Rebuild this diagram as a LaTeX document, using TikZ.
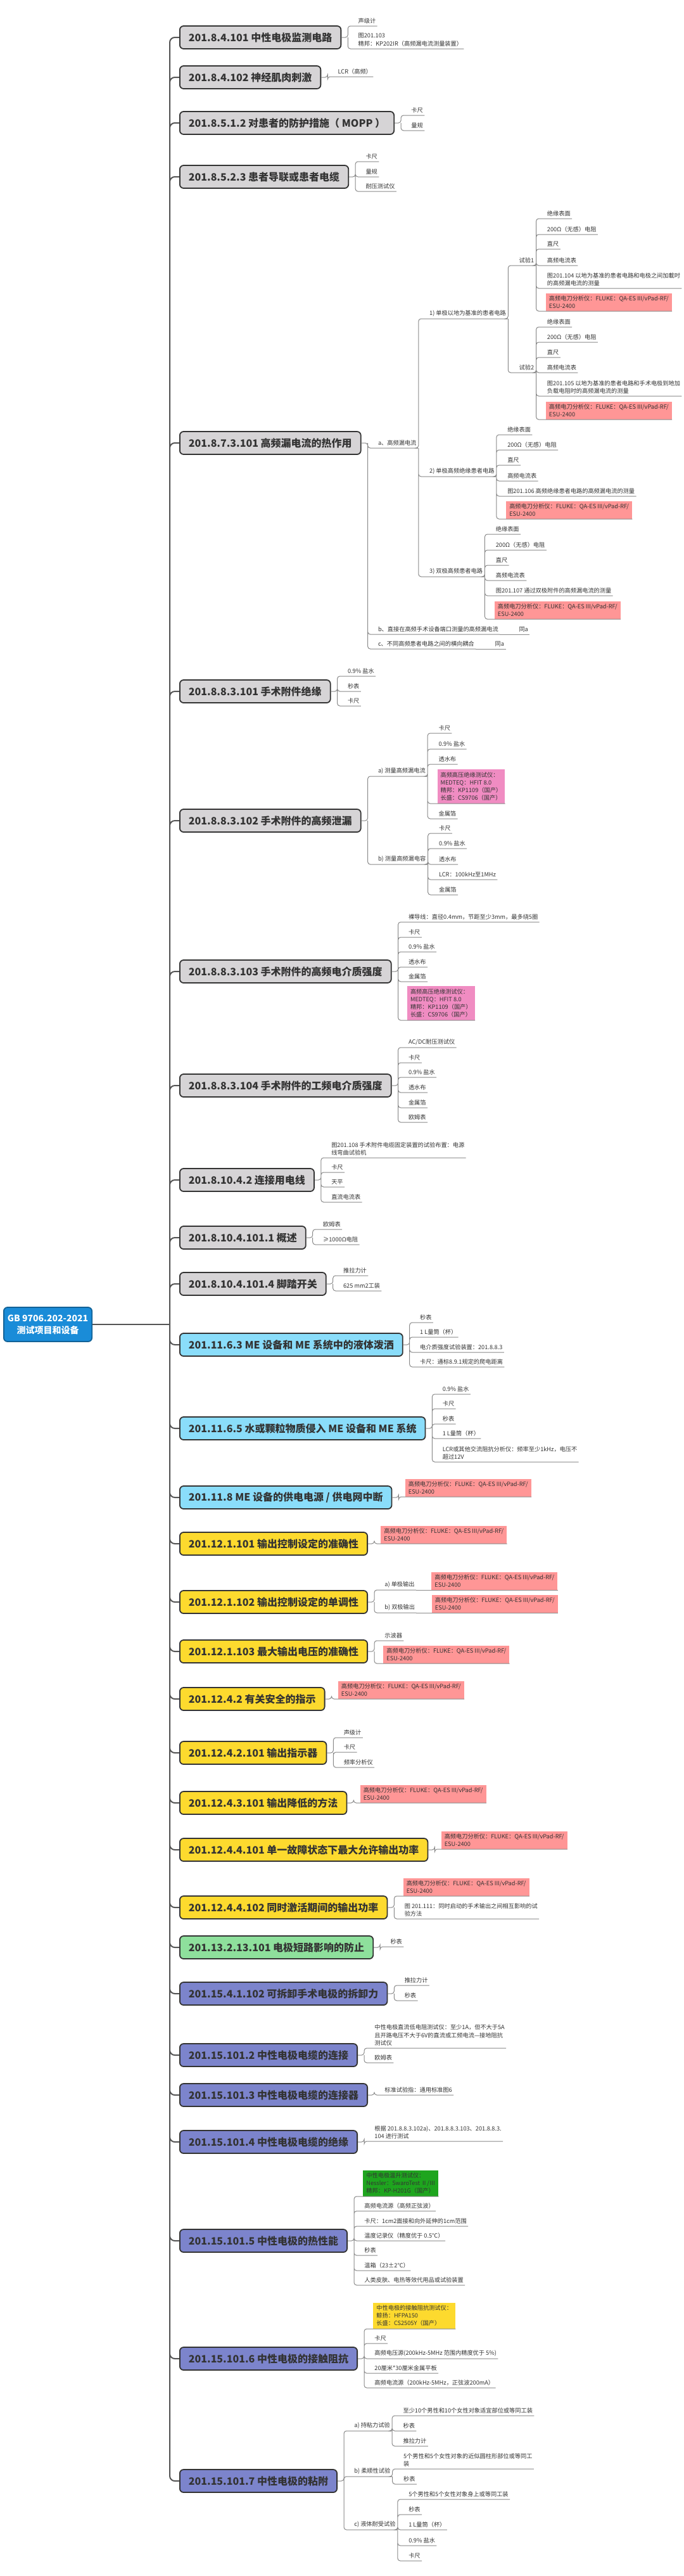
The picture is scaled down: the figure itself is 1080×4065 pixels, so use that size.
\documentclass[tikz,border=0pt]{standalone}
\usepackage{fontspec}
\setmainfont{Noto Sans CJK SC}
\usetikzlibrary{positioning,calc}
\definecolor{boxgray}{HTML}{D6D4D6}
\definecolor{boxblue}{HTML}{8ADDFA}
\definecolor{boxyellow}{HTML}{FDDA2E}
\definecolor{boxgreen}{HTML}{8EE09C}
\definecolor{boxpurple}{HTML}{7C84CC}
\definecolor{rootblue}{HTML}{1A8CD8}
\definecolor{redfill}{HTML}{FF9696}
\definecolor{pinkfill}{HTML}{F08CC2}
\definecolor{greenfill}{HTML}{1EA51E}
\definecolor{yellowfill}{HTML}{FDDA2E}
\definecolor{linegray}{HTML}{8A8A8A}
\definecolor{trunkgray}{HTML}{555555}
\definecolor{textgray}{HTML}{333333}
\newcommand{\leaffont}{\fontsize{4.6}{6.1}\selectfont}
\tikzset{
  mainbox/.style={draw=textgray, line width=0.9pt, rounded corners=3pt, anchor=west,
    minimum height=18pt, inner xsep=7pt, font=\fontsize{8}{10}\selectfont\bfseries, text=textgray},
  rootbox/.style={draw=rootblue!70!black, line width=0.9pt, rounded corners=3pt, fill=rootblue,
    text=white, align=center, anchor=west, minimum width=60pt, minimum height=27pt, inner xsep=3pt,
    font=\fontsize{7}{9.5}\selectfont\bfseries},
  leaf/.style={anchor=south west, font=\leaffont, text=textgray, inner xsep=1pt, inner ysep=1.8pt, align=left},
  hl/.style={leaf, inner xsep=2.5pt, inner ysep=2pt},
  redbox/.style={hl, fill=redfill},
  pinkbox/.style={hl, fill=pinkfill},
  greenbox/.style={hl, fill=greenfill},
  yellowbox/.style={hl, fill=yellowfill},
  conn/.style={draw=linegray, line width=0.5pt, rounded corners=2pt},
  trunk/.style={draw=trunkgray, line width=1pt, rounded corners=4pt}
}
\begin{document}
\begin{tikzpicture}[x=0.5pt,y=-0.5pt]
  \useasboundingbox[fill=white] (0,0) rectangle (1080,4065);

  \node[rootbox] (root) at (5,2090) {GB 9706.202-2021\\测试项目和设备};
  \coordinate (T) at (268,2090);

  % main sections
  \node[mainbox, fill=boxgray] (s1) at (283,59) {201.8.4.101 中性电极监测电路};
  \node[mainbox, fill=boxgray] (s2) at (283,122) {201.8.4.102 神经肌肉刺激};
  \node[mainbox, fill=boxgray] (s3) at (283,194) {201.8.5.1.2 对患者的防护措施（ MOPP ）};
  \node[mainbox, fill=boxgray] (s4) at (283,279) {201.8.5.2.3 患者导联或患者电缆};
  \node[mainbox, fill=boxgray] (s5) at (283,699) {201.8.7.3.101 高频漏电流的热作用};
  \node[mainbox, fill=boxgray] (s6) at (283,1091) {201.8.8.3.101 手术附件绝缘};
  \node[mainbox, fill=boxgray] (s7) at (283,1295) {201.8.8.3.102 手术附件的高频泄漏};
  \node[mainbox, fill=boxgray] (s8) at (283,1533) {201.8.8.3.103 手术附件的高频电介质强度};
  \node[mainbox, fill=boxgray] (s9) at (283,1713) {201.8.8.3.104 手术附件的工频电介质强度};
  \node[mainbox, fill=boxgray] (s10) at (283,1862) {201.8.10.4.2 连接用电线};
  \node[mainbox, fill=boxgray] (s11) at (283,1953) {201.8.10.4.101.1 概述};
  \node[mainbox, fill=boxgray] (s12) at (283,2026) {201.8.10.4.101.4 脚踏开关};
  \node[mainbox, fill=boxblue] (s13) at (283,2122) {201.11.6.3 ME 设备和 ME 系统中的液体泼洒};
  \node[mainbox, fill=boxblue] (s14) at (283,2254) {201.11.6.5 水或颗粒物质侵入 ME 设备和 ME 系统};
  \node[mainbox, fill=boxblue] (s15) at (283,2363) {201.11.8 ME 设备的供电电源 / 供电网中断};
  \node[mainbox, fill=boxyellow] (s16) at (283,2436) {201.12.1.101 输出控制设定的准确性};
  \node[mainbox, fill=boxyellow] (s17) at (283,2528) {201.12.1.102 输出控制设定的单调性};
  \node[mainbox, fill=boxyellow] (s18) at (283,2606) {201.12.1.103 最大输出电压的准确性};
  \node[mainbox, fill=boxyellow] (s19) at (283,2681) {201.12.4.2 有关安全的指示};
  \node[mainbox, fill=boxyellow] (s20) at (283,2766) {201.12.4.2.101 输出指示器};
  \node[mainbox, fill=boxyellow] (s21) at (283,2845) {201.12.4.3.101 输出降低的方法};
  \node[mainbox, fill=boxyellow] (s22) at (283,2919) {201.12.4.4.101 单一故障状态下最大允许输出功率};
  \node[mainbox, fill=boxyellow] (s23) at (283,3010) {201.12.4.4.102 同时激活期间的输出功率};
  \node[mainbox, fill=boxgreen] (s24) at (283,3073) {201.13.2.13.101 电极短路影响的防止};
  \node[mainbox, fill=boxpurple] (s25) at (283,3146) {201.15.4.1.102 可拆卸手术电极的拆卸力};
  \node[mainbox, fill=boxpurple] (s26) at (283,3243) {201.15.101.2 中性电极电缆的连接};
  \node[mainbox, fill=boxpurple] (s27) at (283,3306) {201.15.101.3 中性电极电缆的连接器};
  \node[mainbox, fill=boxpurple] (s28) at (283,3380) {201.15.101.4 中性电极电缆的绝缘};
  \node[mainbox, fill=boxpurple] (s29) at (283,3536) {201.15.101.5 中性电极的热性能};
  \node[mainbox, fill=boxpurple] (s30) at (283,3722) {201.15.101.6 中性电极的接触阻抗};
  \node[mainbox, fill=boxpurple] (s31) at (283,3915) {201.15.101.7 中性电极的粘附};

  \draw[trunk] (root.east) -- (T);
  \draw[trunk] (T) |- (s1.west) (T) |- (s2.west) (T) |- (s3.west) (T) |- (s4.west)
    (T) |- (s5.west) (T) |- (s6.west) (T) |- (s7.west) (T) |- (s8.west) (T) |- (s9.west)
    (T) |- (s10.west) (T) |- (s11.west) (T) |- (s12.west) (T) |- (s13.west) (T) |- (s14.west)
    (T) |- (s15.west) (T) |- (s16.west) (T) |- (s17.west) (T) |- (s18.west) (T) |- (s19.west)
    (T) |- (s20.west) (T) |- (s21.west) (T) |- (s22.west) (T) |- (s23.west) (T) |- (s24.west)
    (T) |- (s25.west) (T) |- (s26.west) (T) |- (s27.west) (T) |- (s28.west) (T) |- (s29.west)
    (T) |- (s30.west) (T) |- (s31.west);

  % 201.8.4.101
  \coordinate (s1x) at ([xshift=12pt]s1.east);
  \node[leaf] (s1-1) at (s1x |- 0,41) {声级计};
  \node[leaf] (s1-2) at (s1x |- 0,77) {图201.103\\精邦：KP202IR（高频漏电流测量装置）};
  \draw[conn] (s1.east) -- ++(10,0) coordinate (s1b) |- (s1-1.south east) (s1b) |- (s1-2.south east);

  % 201.8.4.102
  \coordinate (s2x) at ([xshift=12pt]s2.east);
  \node[leaf] (s2-1) at (s2x |- 0,121) {LCR（高频）};
  \draw[conn] (s2.east) -- ++(10,0) |- (s2-1.south east);

  % 201.8.5.1.2
  \coordinate (s3x) at ([xshift=12pt]s3.east);
  \node[leaf] (s3-1) at (s3x |- 0,182) {卡尺};
  \node[leaf] (s3-2) at (s3x |- 0,206) {量规};
  \draw[conn] (s3.east) -- ++(10,0) coordinate (s3b) |- (s3-1.south east) (s3b) |- (s3-2.south east);

  % 201.8.5.2.3
  \coordinate (s4x) at ([xshift=12pt]s4.east);
  \node[leaf] (s4-1) at (s4x |- 0,255) {卡尺};
  \node[leaf] (s4-2) at (s4x |- 0,279) {量规};
  \node[leaf] (s4-3) at (s4x |- 0,302) {耐压测试仪};
  \draw[conn] (s4.east) -- ++(10,0) coordinate (s4b) |- (s4-1.south east) (s4b) |- (s4-2.south east)
    (s4b) |- (s4-3.south east);

  % 201.8.7.3.101
  \coordinate (s5x) at ([xshift=12pt]s5.east);
  \node[leaf] (s5a) at (s5x |- 0,707) {a、高频漏电流};
  \node[leaf] (s5b) at (s5x |- 0,1001) {b、直接在高频手术设备端口测量的高频漏电流};
  \node[leaf] (s5c) at (s5x |- 0,1024) {c、不同高频患者电路之间的横向耦合};
  \draw[conn] (s5.east) -- ++(10,0) coordinate (s5bb) |- (s5a.south east) (s5bb) |- (s5b.south east)
    (s5bb) |- (s5c.south east);
  \node[leaf] (s5b-1) at ([xshift=14pt]s5b.south east) {同a};
  \node[leaf] (s5c-1) at ([xshift=14pt]s5c.south east) {同a};
  \draw[conn] (s5b.south east) -- (s5b-1.south east) (s5c.south east) -- (s5c-1.south east);

  \coordinate (s5ax) at ([xshift=8pt]s5a.south east);
  \node[leaf] (s5a1) at (s5ax |- 0,503) {1) 单极以地为基准的患者电路};
  \node[leaf] (s5a2) at (s5ax |- 0,752) {2) 单极高频绝缘患者电路};
  \node[leaf] (s5a3) at (s5ax |- 0,910) {3) 双极高频患者电路};
  \draw[conn] (s5a.south east) -- ++(1,0) coordinate (s5ab) |- (s5a1.south east) (s5ab) |- (s5a2.south east)
    (s5ab) |- (s5a3.south east);

  \coordinate (s5a1x) at ([xshift=8pt]s5a1.south east);
  \node[leaf] (t1) at (s5a1x |- 0,419) {试验1};
  \node[leaf] (t2) at (s5a1x |- 0,588) {试验2};
  \draw[conn] (s5a1.south east) -- ++(1,0) coordinate (s5a1b) |- (t1.south east) (s5a1b) |- (t2.south east);

  \coordinate (t1x) at ([xshift=8pt]t1.south east);
  \node[leaf] (t1-1) at (t1x |- 0,345) {绝缘表面};
  \node[leaf] (t1-2) at (t1x |- 0,370) {200Ω（无感）电阻};
  \node[leaf] (t1-3) at (t1x |- 0,393) {直尺};
  \node[leaf] (t1-4) at (t1x |- 0,419) {高频电流表};
  \node[leaf] (t1-5) at (t1x |- 0,455) {图201.104 以地为基准的患者电路和电极之间加載时\\的高频漏电流的测量};
  \node[redbox] (t1-6) at (t1x |- 0,491) {高频电刀分析仪：FLUKE：QA-ES III/vPad-RF/\\ESU-2400};
  \draw[conn] (t1.south east) -- ++(1,0) coordinate (t1b) |- (t1-1.south east) (t1b) |- (t1-2.south east)
    (t1b) |- (t1-3.south east) (t1b) |- (t1-4.south east) (t1b) |- (t1-5.south east) (t1b) |- (t1-6.south east);

  \coordinate (t2x) at ([xshift=8pt]t2.south east);
  \node[leaf] (t2-1) at (t2x |- 0,516) {绝缘表面};
  \node[leaf] (t2-2) at (t2x |- 0,540) {200Ω（无感）电阻};
  \node[leaf] (t2-3) at (t2x |- 0,564) {直尺};
  \node[leaf] (t2-4) at (t2x |- 0,588) {高频电流表};
  \node[leaf] (t2-5) at (t2x |- 0,625) {图201.105 以地为基准的患者电路和手术电极到地加\\负载电阻时的高频漏电流的测量};
  \node[redbox] (t2-6) at (t2x |- 0,662) {高频电刀分析仪：FLUKE：QA-ES III/vPad-RF/\\ESU-2400};
  \draw[conn] (t2.south east) -- ++(1,0) coordinate (t2b) |- (t2-1.south east) (t2b) |- (t2-2.south east)
    (t2b) |- (t2-3.south east) (t2b) |- (t2-4.south east) (t2b) |- (t2-5.south east) (t2b) |- (t2-6.south east);

  \coordinate (s5a2x) at ([xshift=8pt]s5a2.south east);
  \node[leaf] (s5a2-1) at (s5a2x |- 0,686) {绝缘表面};
  \node[leaf] (s5a2-2) at (s5a2x |- 0,710) {200Ω（无感）电阻};
  \node[leaf] (s5a2-3) at (s5a2x |- 0,734) {直尺};
  \node[leaf] (s5a2-4) at (s5a2x |- 0,759) {高频电流表};
  \node[leaf] (s5a2-5) at (s5a2x |- 0,783) {图201.106 高频绝缘患者电路的高频漏电流的测量};
  \node[redbox] (s5a2-6) at (s5a2x |- 0,819) {高频电刀分析仪：FLUKE：QA-ES III/vPad-RF/\\ESU-2400};
  \draw[conn] (s5a2.south east) -- ++(1,0) coordinate (s5a2b) |- (s5a2-1.south east) (s5a2b) |- (s5a2-2.south east)
    (s5a2b) |- (s5a2-3.south east) (s5a2b) |- (s5a2-4.south east) (s5a2b) |- (s5a2-5.south east)
    (s5a2b) |- (s5a2-6.south east);

  \coordinate (s5a3x) at ([xshift=8pt]s5a3.south east);
  \node[leaf] (s5a3-1) at (s5a3x |- 0,843) {绝缘表面};
  \node[leaf] (s5a3-2) at (s5a3x |- 0,868) {200Ω（无感）电阻};
  \node[leaf] (s5a3-3) at (s5a3x |- 0,892) {直尺};
  \node[leaf] (s5a3-4) at (s5a3x |- 0,916) {高频电流表};
  \node[leaf] (s5a3-5) at (s5a3x |- 0,940) {图201.107 通过双极附件的高频漏电流的测量};
  \node[redbox] (s5a3-6) at (s5a3x |- 0,977) {高频电刀分析仪：FLUKE：QA-ES III/vPad-RF/\\ESU-2400};
  \draw[conn] (s5a3.south east) -- ++(1,0) coordinate (s5a3b) |- (s5a3-1.south east) (s5a3b) |- (s5a3-2.south east)
    (s5a3b) |- (s5a3-3.south east) (s5a3b) |- (s5a3-4.south east) (s5a3b) |- (s5a3-5.south east)
    (s5a3b) |- (s5a3-6.south east);

  % 201.8.8.3.101
  \coordinate (s6x) at ([xshift=12pt]s6.east);
  \node[leaf] (s6-1) at (s6x |- 0,1067) {0.9\% 盐水};
  \node[leaf] (s6-2) at (s6x |- 0,1091) {秒表};
  \node[leaf] (s6-3) at (s6x |- 0,1114) {卡尺};
  \draw[conn] (s6.east) -- ++(10,0) coordinate (s6b) |- (s6-1.south east) (s6b) |- (s6-2.south east)
    (s6b) |- (s6-3.south east);

  % 201.8.8.3.102
  \coordinate (s7x) at ([xshift=12pt]s7.east);
  \node[leaf] (s7a) at (s7x |- 0,1225) {a) 测量高频漏电流};
  \node[leaf] (s7b) at (s7x |- 0,1364) {b) 测量高频漏电容};
  \draw[conn] (s7.east) -- ++(10,0) coordinate (s7bb) |- (s7a.south east) (s7bb) |- (s7b.south east);
  \coordinate (s7ax) at ([xshift=8pt]s7a.south east);
  \node[leaf] (s7a-1) at (s7ax |- 0,1157) {卡尺};
  \node[leaf] (s7a-2) at (s7ax |- 0,1182) {0.9\% 盐水};
  \node[leaf] (s7a-3) at (s7ax |- 0,1206) {透水布};
  \node[pinkbox] (s7a-4) at (s7ax |- 0,1268) {高频高压绝缘测试仪：\\MEDTEQ：HFIT 8.0\\精邦：KP1109（国产）\\长盛：CS9706（国产）};
  \node[leaf] (s7a-5) at (s7ax |- 0,1292) {金属箔};
  \draw[conn] (s7a.south east) -- ++(1,0) coordinate (s7ab) |- (s7a-1.south east) (s7ab) |- (s7a-2.south east)
    (s7ab) |- (s7a-3.south east) (s7ab) |- (s7a-4.south east) (s7ab) |- (s7a-5.south east);
  \coordinate (s7bx) at ([xshift=8pt]s7b.south east);
  \node[leaf] (s7b-1) at (s7bx |- 0,1315) {卡尺};
  \node[leaf] (s7b-2) at (s7bx |- 0,1339) {0.9\% 盐水};
  \node[leaf] (s7b-3) at (s7bx |- 0,1364) {透水布};
  \node[leaf] (s7b-4) at (s7bx |- 0,1388) {LCR：100kHz至1MHz};
  \node[leaf] (s7b-5) at (s7bx |- 0,1412) {金属箔};
  \draw[conn] (s7b.south east) -- ++(1,0) coordinate (s7bb2) |- (s7b-1.south east) (s7bb2) |- (s7b-2.south east)
    (s7bb2) |- (s7b-3.south east) (s7bb2) |- (s7b-4.south east) (s7bb2) |- (s7b-5.south east);

  % 201.8.8.3.103
  \coordinate (s8x) at ([xshift=12pt]s8.east);
  \node[leaf] (s8-1) at (s8x |- 0,1455) {裸导线：直径0.4mm，节距至少3mm，最多绕5圈};
  \node[leaf] (s8-2) at (s8x |- 0,1479) {卡尺};
  \node[leaf] (s8-3) at (s8x |- 0,1502) {0.9\% 盐水};
  \node[leaf] (s8-4) at (s8x |- 0,1526) {透水布};
  \node[leaf] (s8-5) at (s8x |- 0,1549) {金属箔};
  \node[pinkbox] (s8-6) at (s8x |- 0,1610) {高频高压绝缘测试仪：\\MEDTEQ：HFIT 8.0\\精邦：KP1109（国产）\\长盛：CS9706（国产）};
  \draw[conn] (s8.east) -- ++(10,0) coordinate (s8b) |- (s8-1.south east) (s8b) |- (s8-2.south east)
    (s8b) |- (s8-3.south east) (s8b) |- (s8-4.south east) (s8b) |- (s8-5.south east) (s8b) |- (s8-6.south east);

  % 201.8.8.3.104
  \coordinate (s9x) at ([xshift=12pt]s9.east);
  \node[leaf] (s9-1) at (s9x |- 0,1653) {AC/DC耐压测试仪};
  \node[leaf] (s9-2) at (s9x |- 0,1677) {卡尺};
  \node[leaf] (s9-3) at (s9x |- 0,1700) {0.9\% 盐水};
  \node[leaf] (s9-4) at (s9x |- 0,1724) {透水布};
  \node[leaf] (s9-5) at (s9x |- 0,1748) {金属箔};
  \node[leaf] (s9-6) at (s9x |- 0,1771) {欧姆表};
  \draw[conn] (s9.east) -- ++(10,0) coordinate (s9b) |- (s9-1.south east) (s9b) |- (s9-2.south east)
    (s9b) |- (s9-3.south east) (s9b) |- (s9-4.south east) (s9b) |- (s9-5.south east) (s9b) |- (s9-6.south east);

  % 201.8.10.4.2
  \coordinate (s10x) at ([xshift=12pt]s10.east);
  \node[leaf] (s10-1) at (s10x |- 0,1827) {图201.108 手术附件电缆固定装置的试验布置：电源\\线弯曲试验机};
  \node[leaf] (s10-2) at (s10x |- 0,1850) {卡尺};
  \node[leaf] (s10-3) at (s10x |- 0,1873) {天平};
  \node[leaf] (s10-4) at (s10x |- 0,1897) {直流电流表};
  \draw[conn] (s10.east) -- ++(10,0) coordinate (s10b) |- (s10-1.south east) (s10b) |- (s10-2.south east)
    (s10b) |- (s10-3.south east) (s10b) |- (s10-4.south east);

  % 201.8.10.4.101.1
  \coordinate (s11x) at ([xshift=12pt]s11.east);
  \node[leaf] (s11-1) at (s11x |- 0,1940) {欧姆表};
  \node[leaf] (s11-2) at (s11x |- 0,1964) {≥1000Ω电阻};
  \draw[conn] (s11.east) -- ++(10,0) coordinate (s11b) |- (s11-1.south east) (s11b) |- (s11-2.south east);

  % 201.8.10.4.101.4
  \coordinate (s12x) at ([xshift=12pt]s12.east);
  \node[leaf] (s12-1) at (s12x |- 0,2013) {推拉力计};
  \node[leaf] (s12-2) at (s12x |- 0,2037) {625 mm2工装};
  \draw[conn] (s12.east) -- ++(10,0) coordinate (s12b) |- (s12-1.south east) (s12b) |- (s12-2.south east);

  % 201.11.6.3
  \coordinate (s13x) at ([xshift=12pt]s13.east);
  \node[leaf] (s13-1) at (s13x |- 0,2087) {秒表};
  \node[leaf] (s13-2) at (s13x |- 0,2110) {1 L量筒（杯）};
  \node[leaf] (s13-3) at (s13x |- 0,2134) {电介质强度试验装置：201.8.8.3};
  \node[leaf] (s13-4) at (s13x |- 0,2157) {卡尺：通标8.9.1规定的爬电距离};
  \draw[conn] (s13.east) -- ++(10,0) coordinate (s13b) |- (s13-1.south east) (s13b) |- (s13-2.south east)
    (s13b) |- (s13-3.south east) (s13b) |- (s13-4.south east);

  % 201.11.6.5
  \coordinate (s14x) at ([xshift=12pt]s14.east);
  \node[leaf] (s14-1) at (s14x |- 0,2200) {0.9\% 盐水};
  \node[leaf] (s14-2) at (s14x |- 0,2223) {卡尺};
  \node[leaf] (s14-3) at (s14x |- 0,2247) {秒表};
  \node[leaf] (s14-4) at (s14x |- 0,2270) {1 L量筒（杯）};
  \node[leaf] (s14-5) at (s14x |- 0,2307) {LCR或其他交流阻抗分析仪：频率至少1kHz，电压不\\超过12V};
  \draw[conn] (s14.east) -- ++(10,0) coordinate (s14b) |- (s14-1.south east) (s14b) |- (s14-2.south east)
    (s14b) |- (s14-3.south east) (s14b) |- (s14-4.south east) (s14b) |- (s14-5.south east);

  % 201.11.8
  \coordinate (s15x) at ([xshift=10pt]s15.east);
  \node[redbox] (s15-1) at (s15x |- 0,2362) {高频电刀分析仪：FLUKE：QA-ES III/vPad-RF/\\ESU-2400};
  \draw[conn] (s15.east) -- ++(10,0) |- (s15-1.south east);

  % 201.12.1.101
  \coordinate (s16x) at ([xshift=10pt]s16.east);
  \node[redbox] (s16-1) at (s16x |- 0,2436) {高频电刀分析仪：FLUKE：QA-ES III/vPad-RF/\\ESU-2400};
  \draw[conn] (s16.east) -- ++(10,0) |- (s16-1.south east);

  % 201.12.1.102
  \coordinate (s17x) at ([xshift=12pt]s17.east);
  \node[leaf] (s17a) at (s17x |- 0,2509) {a) 单极输出};
  \node[leaf] (s17b) at (s17x |- 0,2545) {b) 双极输出};
  \draw[conn] (s17.east) -- ++(10,0) coordinate (s17bb) |- (s17a.south east) (s17bb) |- (s17b.south east);
  \node[redbox] (s17a-1) at ([xshift=12pt]s17a.south east) {高频电刀分析仪：FLUKE：QA-ES III/vPad-RF/\\ESU-2400};
  \node[redbox] (s17b-1) at ([xshift=12pt]s17b.south east) {高频电刀分析仪：FLUKE：QA-ES III/vPad-RF/\\ESU-2400};
  \draw[conn] (s17a.south east) -- (s17a-1.south east) (s17b.south east) -- (s17b-1.south east);

  % 201.12.1.103
  \coordinate (s18x) at ([xshift=12pt]s18.east);
  \node[leaf] (s18-1) at (s18x |- 0,2589) {示波器};
  \node[redbox] (s18-2) at (s18x |- 0,2625) {高频电刀分析仪：FLUKE：QA-ES III/vPad-RF/\\ESU-2400};
  \draw[conn] (s18.east) -- ++(10,0) coordinate (s18b) |- (s18-1.south east) (s18b) |- (s18-2.south east);

  % 201.12.4.2
  \coordinate (s19x) at ([xshift=10pt]s19.east);
  \node[redbox] (s19-1) at (s19x |- 0,2681) {高频电刀分析仪：FLUKE：QA-ES III/vPad-RF/\\ESU-2400};
  \draw[conn] (s19.east) -- ++(10,0) |- (s19-1.south east);

  % 201.12.4.2.101
  \coordinate (s20x) at ([xshift=12pt]s20.east);
  \node[leaf] (s20-1) at (s20x |- 0,2742) {声级计};
  \node[leaf] (s20-2) at (s20x |- 0,2765) {卡尺};
  \node[leaf] (s20-3) at (s20x |- 0,2789) {频率分析仪};
  \draw[conn] (s20.east) -- ++(10,0) coordinate (s20b) |- (s20-1.south east) (s20b) |- (s20-2.south east)
    (s20b) |- (s20-3.south east);

  % 201.12.4.3.101
  \coordinate (s21x) at ([xshift=10pt]s21.east);
  \node[redbox] (s21-1) at (s21x |- 0,2845) {高频电刀分析仪：FLUKE：QA-ES III/vPad-RF/\\ESU-2400};
  \draw[conn] (s21.east) -- ++(10,0) |- (s21-1.south east);

  % 201.12.4.4.101
  \coordinate (s22x) at ([xshift=10pt]s22.east);
  \node[redbox] (s22-1) at (s22x |- 0,2918) {高频电刀分析仪：FLUKE：QA-ES III/vPad-RF/\\ESU-2400};
  \draw[conn] (s22.east) -- ++(10,0) |- (s22-1.south east);

  % 201.12.4.4.102
  \coordinate (s23x) at ([xshift=12pt]s23.east);
  \node[redbox] (s23-1) at (s23x |- 0,2992) {高频电刀分析仪：FLUKE：QA-ES III/vPad-RF/\\ESU-2400};
  \node[leaf] (s23-2) at (s23x |- 0,3028) {图 201.111：同时启动的手术输出之间相互影响的试\\验方法};
  \draw[conn] (s23.east) -- ++(10,0) coordinate (s23b) |- (s23-1.south east) (s23b) |- (s23-2.south east);

  % 201.13.2.13.101
  \coordinate (s24x) at ([xshift=12pt]s24.east);
  \node[leaf] (s24-1) at (s24x |- 0,3072) {秒表};
  \draw[conn] (s24.east) -- ++(10,0) |- (s24-1.south east);

  % 201.15.4.1.102
  \coordinate (s25x) at ([xshift=12pt]s25.east);
  \node[leaf] (s25-1) at (s25x |- 0,3133) {推拉力计};
  \node[leaf] (s25-2) at (s25x |- 0,3157) {秒表};
  \draw[conn] (s25.east) -- ++(10,0) coordinate (s25b) |- (s25-1.south east) (s25b) |- (s25-2.south east);

  % 201.15.101.2
  \coordinate (s26x) at ([xshift=12pt]s26.east);
  \node[leaf] (s26-1) at (s26x |- 0,3232) {中性电极直流低电阻测试仪：至少1A，但不大于5A\\且开路电压不大于6V的直流或工频电流---接地阻抗\\测试仪};
  \node[leaf] (s26-2) at (s26x |- 0,3255) {欧姆表};
  \draw[conn] (s26.east) -- ++(10,0) coordinate (s26b) |- (s26-1.south east) (s26b) |- (s26-2.south east);

  % 201.15.101.3
  \coordinate (s27x) at ([xshift=12pt]s27.east);
  \node[leaf] (s27-1) at (s27x |- 0,3306) {标准试验指：通用标准图6};
  \draw[conn] (s27.east) -- ++(10,0) |- (s27-1.south east);

  % 201.15.101.4
  \coordinate (s28x) at ([xshift=12pt]s28.east);
  \node[leaf] (s28-1) at (s28x |- 0,3379) {根据 201.8.8.3.102a)、201.8.8.3.103、201.8.8.3.\\104 进行测试};
  \draw[conn] (s28.east) -- ++(10,0) |- (s28-1.south east);

  % 201.15.101.5
  \coordinate (s29x) at ([xshift=12pt]s29.east);
  \node[greenbox] (s29-1) at (s29x |- 0,3466) {中性电极温升测试仪：\\Nessler：SwaroTest Ⅱ/Ⅲ\\精邦：KP-H201G（国产）};
  \node[leaf] (s29-2) at (s29x |- 0,3489) {高频电流源（高频正弦波）};
  \node[leaf] (s29-3) at (s29x |- 0,3513) {卡尺：1cm2面接和向外延伸的1cm范围};
  \node[leaf] (s29-4) at (s29x |- 0,3536) {温度记录仪（精度优于 0.5℃）};
  \node[leaf] (s29-5) at (s29x |- 0,3559) {秒表};
  \node[leaf] (s29-6) at (s29x |- 0,3583) {温箱（23±2℃）};
  \node[leaf] (s29-7) at (s29x |- 0,3606) {人类皮肤、电热等效代用品或试验装置};
  \draw[conn] (s29.east) -- ++(10,0) coordinate (s29b) |- (s29-1.south east) (s29b) |- (s29-2.south east)
    (s29b) |- (s29-3.south east) (s29b) |- (s29-4.south east) (s29b) |- (s29-5.south east)
    (s29b) |- (s29-6.south east) (s29b) |- (s29-7.south east);

  % 201.15.101.6
  \coordinate (s30x) at ([xshift=12pt]s30.east);
  \node[yellowbox] (s30-1) at (s30x |- 0,3675) {中性电极的接触阻抗测试仪：\\鲸扬：HFPA150\\长盛：CS2505Y（国产）};
  \node[leaf] (s30-2) at (s30x |- 0,3698) {卡尺};
  \node[leaf] (s30-3) at (s30x |- 0,3722) {高频电压源(200kHz-5MHz 范围内精度优于 5\%)};
  \node[leaf] (s30-4) at (s30x |- 0,3745) {20厘米*30厘米金属平板};
  \node[leaf] (s30-5) at (s30x |- 0,3768) {高频电流源（200kHz-5MHz，正弦波200mA）};
  \draw[conn] (s30.east) -- ++(10,0) coordinate (s30b) |- (s30-1.south east) (s30b) |- (s30-2.south east)
    (s30b) |- (s30-3.south east) (s30b) |- (s30-4.south east) (s30b) |- (s30-5.south east);

  % 201.15.101.7
  \coordinate (s31x) at ([xshift=12pt]s31.east);
  \node[leaf] (s31a) at (s31x |- 0,3836) {a) 持粘力试验};
  \node[leaf] (s31b) at (s31x |- 0,3908) {b) 柔顺性试验};
  \node[leaf] (s31c) at (s31x |- 0,3992) {c) 液体耐受试验};
  \draw[conn] (s31.east) -- ++(10,0) coordinate (s31bb) |- (s31a.south east) (s31bb) |- (s31b.south east)
    (s31bb) |- (s31c.south east);
  \coordinate (s31ax) at ([xshift=8pt]s31a.south east);
  \node[leaf] (s31a-1) at (s31ax |- 0,3812) {至少10个男性和10个女性对象适宜部位或等同工装};
  \node[leaf] (s31a-2) at (s31ax |- 0,3836) {秒表};
  \node[leaf] (s31a-3) at (s31ax |- 0,3860) {推拉力计};
  \draw[conn] (s31a.south east) -- ++(1,0) coordinate (s31ab) |- (s31a-1.south east) (s31ab) |- (s31a-2.south east)
    (s31ab) |- (s31a-3.south east);
  \coordinate (s31bx) at ([xshift=8pt]s31b.south east);
  \node[leaf] (s31b-1) at (s31bx |- 0,3896) {5个男性和5个女性对象的近似圆柱形部位或等同工\\装};
  \node[leaf] (s31b-2) at (s31bx |- 0,3920) {秒表};
  \draw[conn] (s31b.south east) -- ++(1,0) coordinate (s31bb2) |- (s31b-1.south east) (s31bb2) |- (s31b-2.south east);
  \coordinate (s31cx) at ([xshift=8pt]s31c.south east);
  \node[leaf] (s31c-1) at (s31cx |- 0,3944) {5个男性和5个女性对象身上或等同工装};
  \node[leaf] (s31c-2) at (s31cx |- 0,3968) {秒表};
  \node[leaf] (s31c-3) at (s31cx |- 0,3992) {1 L量筒（杯）};
  \node[leaf] (s31c-4) at (s31cx |- 0,4017) {0.9\% 盐水};
  \node[leaf] (s31c-5) at (s31cx |- 0,4041) {卡尺};
  \draw[conn] (s31c.south east) -- ++(1,0) coordinate (s31cb) |- (s31c-1.south east) (s31cb) |- (s31c-2.south east)
    (s31cb) |- (s31c-3.south east) (s31cb) |- (s31c-4.south east) (s31cb) |- (s31c-5.south east);
\end{tikzpicture}
\end{document}
